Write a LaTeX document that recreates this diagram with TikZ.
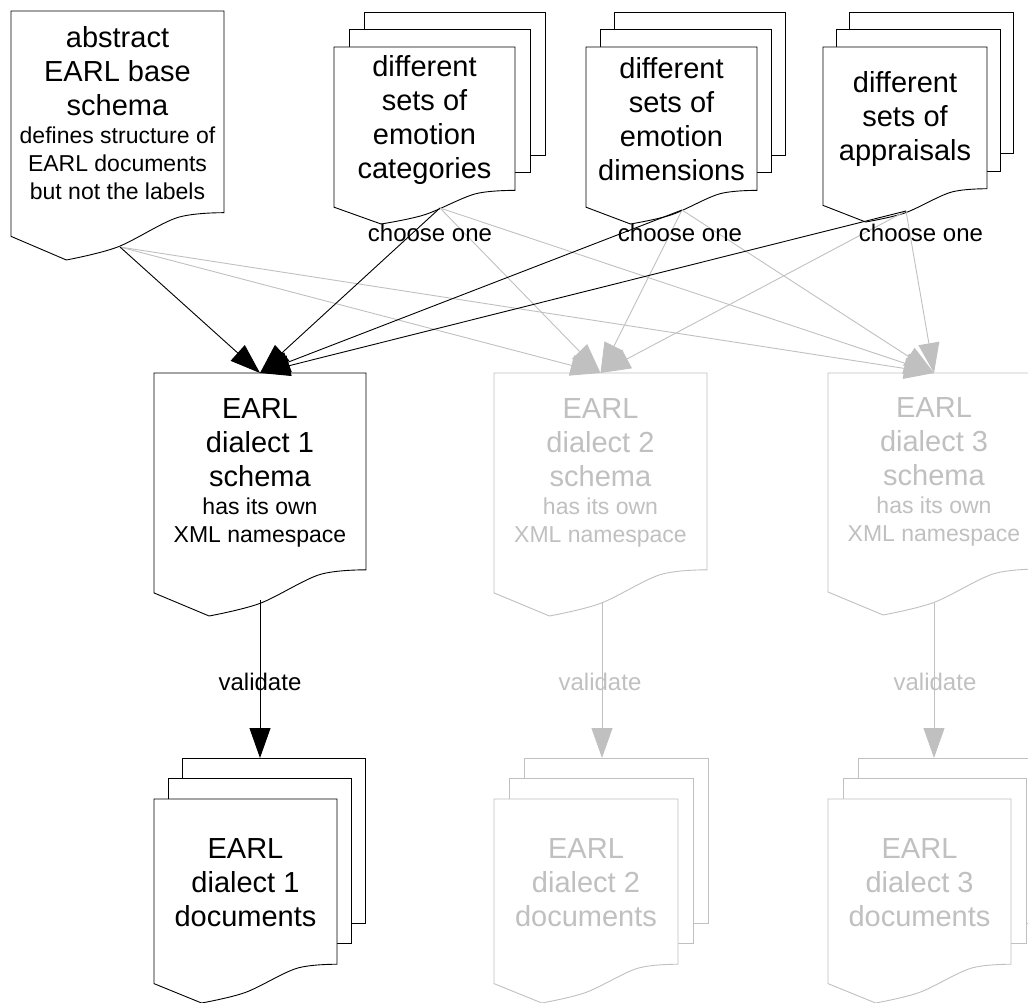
\documentclass[tikz,border=0pt]{standalone}
\usepackage{fontspec}
\setmainfont{Liberation Sans}
\usetikzlibrary{arrows.meta}
\definecolor{ghost}{RGB}{192,192,192}
\setlength{\parindent}{0pt}
\setlength{\parskip}{0pt}
\newcommand{\bigf}{\fontsize{29}{34}\selectfont}
\newcommand{\smallf}{\fontsize{23}{28}\selectfont}
\newcommand{\lblf}{\fontsize{24}{28}\selectfont}
% front page of a document: name, x0, y0, W, H, colour, text
\newcommand{\docpage}[7]{%
  \draw[pageline,draw=#6] (#2,#3) -- ({#2+#4},#3)
    -- plot[smooth,tension=0.55] coordinates {({#2+#4},{#3+0.81*#5}) ({#2+0.78*#4},{#3+0.83*#5}) ({#2+0.5*#4},{#3+0.948*#5}) ({#2+0.26*#4},{#3+#5})}
    -- (#2,{#3+0.905*#5}) -- cycle;
  \node[doctext,text=#6,text width=#4pt] (#1) at ({#2+0.5*#4},{#3+0.41*#5}) {\centering\spaceskip=0pt\xspaceskip=0pt #7\par};
  \coordinate (#1-in) at ({#2+0.5*#4},#3);
}
% two pages behind a front page: x0, y0, W, H, dx, dy, colour
\newcommand{\backpages}[7]{%
  \draw[pageline,draw=#7] ({#1+2*#5},{#2+2*#6}) rectangle ++(#3,{0.81*#4});
  \draw[pageline,draw=#7] ({#1+#5},{#2+#6}) rectangle ++(#3,{0.81*#4});
}
\begin{document}
\begin{tikzpicture}[x=1pt,y=-1pt,
  pageline/.style={line width=0.9pt,fill=white,line join=miter},
  doctext/.style={inner sep=0pt},
  lbl/.style={inner sep=0pt,font=\lblf},
  arr/.style={line width=0.9pt,-{Triangle[length=30pt,width=21pt]}}]
\useasboundingbox (0,0) rectangle (1028,1003);
\clip (0,0) rectangle (1028,1003);

% top row
\docpage{abs}{11}{11}{213}{249}{black}{\bigf abstract\\EARL base\\schema\par\smallf defines structure of\\EARL documents\\but not the labels}
\backpages{334}{47}{181}{177}{15}{-17.5}{black}
\docpage{cat}{334}{47}{181}{177}{black}{\bigf different\\sets of\\emotion\\categories}
\backpages{586}{47}{171}{177}{14}{-17.5}{black}
\docpage{dim}{586}{47}{171}{177}{black}{\bigf different\\sets of\\emotion\\dimensions}
\backpages{823}{47}{164}{175}{13}{-17.5}{black}
\docpage{app}{823}{47}{164}{175}{black}{\bigf different\\sets of\\appraisals}

% middle row
\docpage{d1s}{154}{373}{212}{243}{black}{\bigf EARL\\dialect 1\\schema\par\smallf has its own\\XML namespace}
\docpage{d2s}{494}{373}{213}{243}{ghost}{\bigf EARL\\dialect 2\\schema\par\smallf has its own\\XML namespace}
\docpage{d3s}{828}{373}{212}{242}{ghost}{\bigf EARL\\dialect 3\\schema\par\smallf has its own\\XML namespace}

% bottom row
\backpages{154}{799}{183}{204}{14}{-20.5}{black}
\docpage{d1d}{154}{799}{183}{204}{black}{\bigf EARL\\dialect 1\\documents}
\backpages{494}{799}{184}{204}{15}{-20.5}{ghost}
\docpage{d2d}{494}{799}{184}{204}{ghost}{\bigf EARL\\dialect 2\\documents}
\backpages{828}{799}{183}{204}{15}{-20.5}{ghost}
\docpage{d3d}{828}{799}{183}{204}{ghost}{\bigf EARL\\dialect 3\\documents}

% connector ends
\coordinate (abs-out) at (120,247);
\coordinate (cat-out) at (440,208);
\coordinate (dim-out) at (682,210);
\coordinate (app-out) at (906,211);
\coordinate (d1s-out) at (260,600);
\coordinate (d2s-out) at (602,602);
\coordinate (d3s-out) at (934,603);
\coordinate (d1d-top) at (182,758);
\coordinate (d2d-top) at (524,758);
\coordinate (d3d-top) at (858,758);

% grey connectors
\foreach \s in {abs,cat,dim,app}{
  \draw[arr,ghost] (\s-out) -- (d2s-in);
  \draw[arr,ghost] (\s-out) -- (d3s-in);
}
\draw[arr,ghost] (d2s-out) -- (d2s-out |- d2d-top);
\draw[arr,ghost] (d3s-out) -- (d3s-out |- d3d-top);

% black connectors
\foreach \s in {abs,cat,dim,app}{
  \draw[arr,black] (\s-out) -- (d1s-in);
}
\draw[arr,black] (d1s-out) -- (d1s-out |- d1d-top);

% labels
\node[lbl] (ch1) at (430,233) {choose one};
\node[lbl] (ch2) at (680,233) {choose one};
\node[lbl] (ch3) at (921,233) {choose one};
\node[lbl] (va1) at (260,682) {validate};
\node[lbl,text=ghost] (va2) at (600,682) {validate};
\node[lbl,text=ghost] (va3) at (935,682) {validate};
\end{tikzpicture}
\end{document}
